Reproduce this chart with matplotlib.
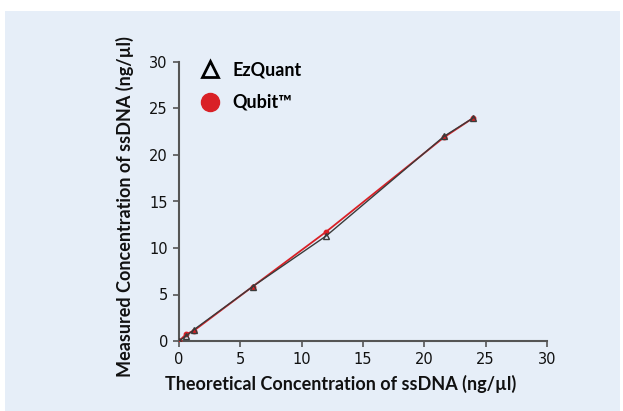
import matplotlib
matplotlib.use("Agg")
import matplotlib.pyplot as plt
from matplotlib.lines import Line2D
from matplotlib.patches import Rectangle

# values
theoretical = [0, 0.6, 1.2, 6, 12, 21.6, 24]
ezquant = [0, 0.55, 1.2, 5.85, 11.3, 22.0, 24.0]
qubit = [0, 0.75, 1.1, 5.85, 11.75, 21.9, 24.0]

ticks = [0, 5, 10, 15, 20, 25, 30]
x_label = "Theoretical Concentration of ssDNA (ng/µl)"
y_label = "Measured Concentration of ssDNA (ng/µl)"
series_names = ["EzQuant", "Qubit™"]

BG = "#E6EEF8"
RED = "#D92026"
SPINE = "#555555"

fig = plt.figure(figsize=(6.23, 4.11), dpi=100)
fig.patches.append(
    Rectangle((5 / 623, 0), 615 / 623, 400 / 411, transform=fig.transFigure,
              facecolor=BG, edgecolor="none", zorder=-10)
)

ax = fig.add_axes([179 / 623, 1 - 341 / 411, 368 / 623, 279 / 411])
ax.set_facecolor("none")

ax.plot(theoretical, qubit, color=RED, lw=1.3, marker="o", ms=3.2,
        mfc=RED, mec=RED, zorder=3)
ax.plot(theoretical, ezquant, color="#3a3a3a", lw=1.0, marker="^", ms=5,
        mfc="none", mec="#3a3a3a", mew=1.0, zorder=4)

ax.set_xlim(0, 30)
ax.set_ylim(0, 30)
ax.set_xticks(ticks)
ax.set_yticks(ticks)
for side in ["top", "right"]:
    ax.spines[side].set_visible(False)
for side in ["left", "bottom"]:
    ax.spines[side].set_color(SPINE)
    ax.spines[side].set_linewidth(1.5)
ax.tick_params(direction="out", length=4, width=1.2, color=SPINE,
               labelsize=10.5, labelcolor="#111111", pad=4)

# axis titles sit a little left / high of the axes centre in the original
fig.text(340.5 / 623, 1 - 384 / 411, x_label, ha="center", va="center",
         fontsize=13, fontweight="bold", family="Lato", color="#111111")
fig.text(125 / 623, 1 - 207 / 411, y_label, ha="center", va="center",
         rotation=90, fontsize=13, fontweight="bold", family="Lato", color="#111111")

handles = [
    Line2D([], [], ls="none", marker="^", ms=11, mfc="none", mec="black", mew=2),
    Line2D([], [], ls="none", marker="o", ms=13, mfc=RED, mec=RED),
]
ax.legend(handles, series_names, loc="upper left", bbox_to_anchor=(0.015, 1.06),
          frameon=False, handlelength=1.0, handletextpad=0.75, labelspacing=0.85,
          prop={"family": "Lato", "weight": "bold", "size": 13})

fig.savefig("out.png", dpi=100)
